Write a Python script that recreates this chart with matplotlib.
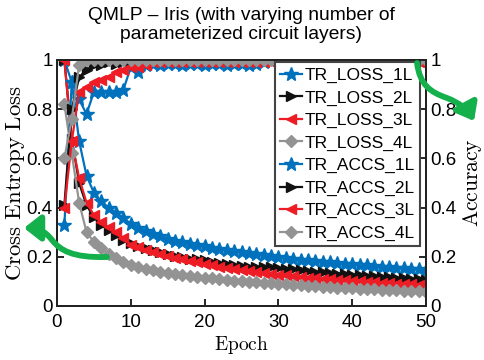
import numpy as np
import matplotlib
matplotlib.use("Agg")
import matplotlib.pyplot as plt
from matplotlib.path import Path
from matplotlib.patches import FancyArrowPatch

plt.rcParams['font.family'] = ['Liberation Sans', 'DejaVu Sans']
plt.rcParams['mathtext.fontset'] = 'cm'

epochs = list(range(1, 51))

loss_1L = [1.0, 0.91, 0.67, 0.53, 0.46, 0.425, 0.40, 0.378, 0.357, 0.335,
           0.318, 0.305, 0.293, 0.283, 0.274, 0.266, 0.259, 0.253, 0.247, 0.242,
           0.237, 0.232, 0.228, 0.224, 0.22, 0.215, 0.21, 0.206, 0.202, 0.198,
           0.195, 0.192, 0.189, 0.186, 0.183, 0.18, 0.177, 0.174, 0.172, 0.169,
           0.167, 0.165, 0.162, 0.16, 0.158, 0.156, 0.154, 0.152, 0.15, 0.148]
loss_2L = [1.0, 0.68, 0.50, 0.41, 0.36, 0.33, 0.31, 0.29, 0.27, 0.255,
           0.245, 0.235, 0.226, 0.218, 0.21, 0.204, 0.198, 0.193, 0.19, 0.185,
           0.18, 0.175, 0.17, 0.166, 0.163, 0.16, 0.159, 0.158, 0.157, 0.155,
           0.152, 0.149, 0.146, 0.143, 0.14, 0.137, 0.135, 0.132, 0.13, 0.128,
           0.126, 0.123, 0.121, 0.119, 0.117, 0.115, 0.113, 0.111, 0.109, 0.107]
loss_3L = [1.0, 0.67, 0.52, 0.42, 0.37, 0.34, 0.32, 0.30, 0.275, 0.25,
           0.238, 0.228, 0.219, 0.211, 0.204, 0.197, 0.19, 0.183, 0.177, 0.171,
           0.166, 0.16, 0.155, 0.15, 0.146, 0.142, 0.138, 0.134, 0.13, 0.127,
           0.124, 0.121, 0.118, 0.115, 0.113, 0.111, 0.109, 0.107, 0.105, 0.103,
           0.101, 0.099, 0.097, 0.095, 0.093, 0.091, 0.089, 0.088, 0.086, 0.085]
loss_4L = [0.82, 0.62, 0.42, 0.30, 0.26, 0.235, 0.21, 0.195, 0.18, 0.165,
           0.158, 0.152, 0.146, 0.14, 0.135, 0.13, 0.126, 0.122, 0.118, 0.115,
           0.112, 0.109, 0.106, 0.103, 0.1, 0.098, 0.096, 0.094, 0.092, 0.09,
           0.088, 0.086, 0.084, 0.082, 0.08, 0.079, 0.077, 0.075, 0.074, 0.072,
           0.071, 0.069, 0.068, 0.067, 0.065, 0.064, 0.062, 0.061, 0.06, 0.058]

acc_1L = [0.33, 0.91, 0.84, 0.78, 0.87, 0.87, 0.87, 0.87, 0.88, 0.97,
          0.95, 0.98, 0.985, 0.98, 0.985, 0.985, 0.98, 0.985, 0.985, 0.98,
          0.985, 0.985, 0.98, 0.985, 0.985, 0.98, 0.985, 0.99, 1.0, 1.0,
          1.0, 1.0, 1.0, 1.0, 1.0, 1.0, 1.0, 1.0, 0.985, 1.0,
          1.0, 1.0, 1.0, 1.0, 1.0, 1.0, 1.0, 1.0, 1.0, 1.0]
acc_2L = [0.41, 0.80, 0.93, 0.96, 0.98, 0.98, 0.99, 0.985, 0.99, 0.99,
          0.99, 0.99, 1.0, 1.0, 1.0, 1.0, 1.0, 1.0, 1.0, 1.0,
          1.0, 1.0, 1.0, 1.0, 1.0, 1.0, 1.0, 1.0, 1.0, 1.0,
          1.0, 1.0, 1.0, 1.0, 1.0, 1.0, 1.0, 1.0, 1.0, 1.0,
          1.0, 1.0, 1.0, 1.0, 1.0, 1.0, 1.0, 1.0, 1.0, 1.0]
acc_3L = [0.40, 0.67, 0.87, 0.89, 0.91, 0.92, 0.93, 0.95, 0.96, 0.97,
          0.97, 0.98, 0.99, 0.99, 0.99, 0.99, 0.99, 0.99, 0.99, 0.99,
          0.99, 0.99, 0.99, 0.99, 0.99, 0.99, 0.99, 0.99, 0.99, 0.99,
          0.99, 0.99, 0.99, 0.99, 0.99, 0.99, 0.99, 0.99, 0.99, 0.99,
          0.99, 0.99, 0.99, 0.99, 0.99, 0.99, 0.99, 0.99, 0.99, 0.99]
acc_4L = [0.60, 0.76, 0.98, 1.0, 1.0, 1.0, 1.0, 1.0, 1.0, 1.0,
          1.0, 1.0, 1.0, 1.0, 1.0, 1.0, 1.0, 1.0, 1.0, 1.0,
          1.0, 1.0, 1.0, 1.0, 1.0, 1.0, 1.0, 1.0, 1.0, 1.0,
          1.0, 1.0, 1.0, 1.0, 1.0, 1.0, 1.0, 1.0, 1.0, 1.0,
          1.0, 1.0, 1.0, 1.0, 1.0, 1.0, 1.0, 1.0, 1.0, 1.0]

loss_labels = ['TR_LOSS_1L', 'TR_LOSS_2L', 'TR_LOSS_3L', 'TR_LOSS_4L']
acc_labels = ['TR_ACCS_1L', 'TR_ACCS_2L', 'TR_ACCS_3L', 'TR_ACCS_4L']
yticks = [0, 0.2, 0.4, 0.6, 0.8, 1]
ytick_labels = ['0', '0.2', '0.4', '0.6', '0.8', '1']
xticks = [0, 10, 20, 30, 40, 50]

colors = ['#0072BD', '#111111', '#EE1C25', '#939393']
markers = ['*', '>', '<', 'D']
msizes = [10, 7, 7, 6]

W, H = 484, 360
fig = plt.figure(figsize=(W / 100, H / 100), dpi=100)
ax = fig.add_axes([57 / W, 1 - 306 / H, (426 - 57) / W, 246 / H])
ax2 = ax.twinx()

handles = []
for y, c, m, ms, lab in zip([loss_1L, loss_2L, loss_3L, loss_4L], colors, markers, msizes, loss_labels):
    h, = ax.plot(epochs, y, color=c, marker=m, markersize=ms, lw=1.6, label=lab)
    handles.append(h)
for y, c, m, ms, lab in zip([acc_1L, acc_2L, acc_3L, acc_4L], colors, markers, msizes, acc_labels):
    h, = ax2.plot(epochs, y, color=c, marker=m, markersize=ms, lw=1.6, label=lab)
    handles.append(h)

for a in (ax, ax2):
    a.set_ylim(0, 1)
    a.set_xlim(0, 50)
    a.set_yticks(yticks)
    a.set_yticklabels(ytick_labels)
    a.tick_params(direction='in', length=5, width=1.2, labelsize=13.5, pad=3)
    for s in a.spines.values():
        s.set_linewidth(1.4)
        s.set_color('#222222')
ax.set_xticks(xticks)
ax.tick_params(axis='x', pad=6)

ax.set_xlabel(r'$\mathrm{Epoch}$', fontsize=14, labelpad=2)
ax.set_ylabel(r'$\mathrm{Cross\ Entropy\ Loss}$', fontsize=16.5, labelpad=0)
ax2.set_ylabel(r'$\mathrm{Accuracy}$', fontsize=15.5, labelpad=3)
ax.set_title('QMLP \u2013 Iris (with varying number of\nparameterized circuit layers)',
             fontsize=13.9, pad=15, linespacing=1.2)

leg = ax2.legend(handles=handles, loc='upper right', bbox_to_anchor=(0.985, 0.99),
                 fontsize=12.5, frameon=True, fancybox=False, edgecolor='#444444',
                 framealpha=1, labelspacing=0.42, handlelength=1.3, handletextpad=0.15,
                 borderpad=0.3, borderaxespad=0)
leg.get_frame().set_linewidth(1.5)
leg.set_zorder(20)

green = '#14B04B'
def px(x, y):
    return (x / W, 1 - y / H)

left_path = Path([px(107, 257), px(72, 258), px(60, 250), px(52, 240),
                  px(45, 231), px(38, 228), px(24, 228)],
                 [Path.MOVETO, Path.CURVE4, Path.CURVE4, Path.CURVE4,
                  Path.CURVE4, Path.CURVE4, Path.CURVE4])
right_path = Path([px(417, 63), px(420, 85), px(430, 92), px(447, 98),
                   px(460, 103), px(468, 110), px(474, 121)],
                  [Path.MOVETO, Path.CURVE4, Path.CURVE4, Path.CURVE4,
                   Path.CURVE4, Path.CURVE4, Path.CURVE4])
for p in (left_path, right_path):
    arr = FancyArrowPatch(path=p, arrowstyle='-|>,head_length=0.7,head_width=0.55',
                          mutation_scale=14, lw=4.2, color=green,
                          transform=fig.transFigure, zorder=30)
    fig.add_artist(arr)

fig.savefig('out.png', dpi=100)
